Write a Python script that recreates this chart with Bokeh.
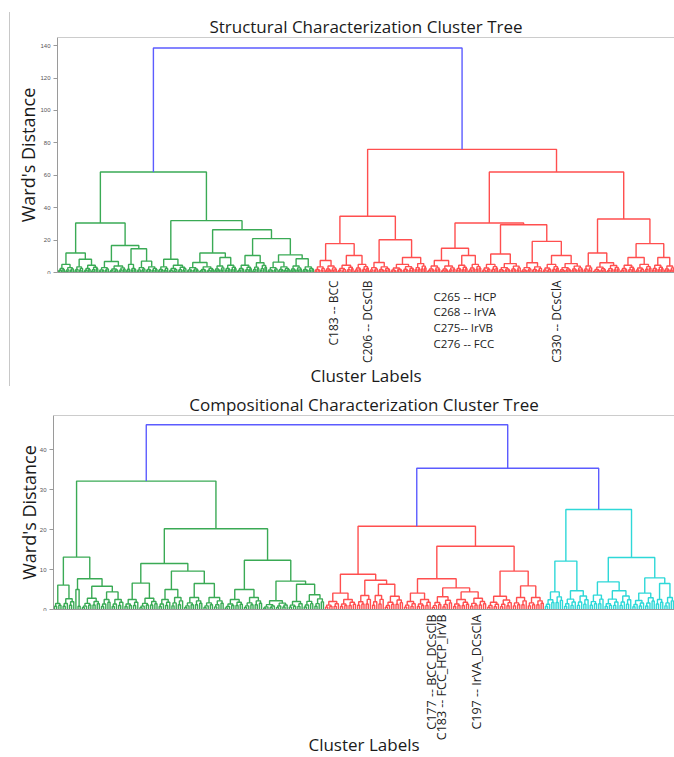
import math
from bokeh.plotting import figure
from bokeh.models import Span, Range1d, FixedTicker, Spacer
from bokeh.core.properties import value
from bokeh.layouts import column, row
from bokeh.embed import file_html
from bokeh.resources import INLINE

# ---------------- data ----------------
# node = [merge height, left, right]; (n, h) = small fringe group of n leaves whose top merge is at h
STRUCT_GREEN = [62,
    [30.5,
        [12, [5, (5, 2.5), (6, 3)], [8.2, (6, 3.5), (10, 4.5)]],
        [16.7, [6.8, (7, 3), (11, 4)], [14.7, [5, (3, 2), (4, 2.5)], [7, (6, 3), (8, 3.5)]]]],
    [32,
        [8.2, (7, 3.5), (12, 4.5)],
        [26.4,
            [12, [6.2, (8, 3), (10, 3.5)], [9.3, (7, 4), (8, 4.5)]],
            [20.9, [10.5, (10, 4.5), (10, 6)],
                   [10.9, [6.4, (7, 3), (8, 3.5)], [8.5, (8, 4), (8, 3.5)]]]]]]
STRUCT_RED = [76,
    [34.7,
        [17.8, [7.4, (7, 3.5), (8, 4)], [10.5, (11, 4.5), (10, 5)]],
        [20.2, [6.2, (6, 3), (8, 3.5)], [9.3, (16, 5), (8, 5.5)]]],
    [62,
        [30.5,
            [15, [7.4, (9, 4), (10, 4)], [10.5, (8, 4.5), (9, 5)]],
            [29.5,
                [11.4, (11, 5), (15, 5.5)],
                [19.2, [6, (7, 3), (7, 3.5)], [10.5, (11, 5), (16, 5.5)]]]],
        [33,
            [12, (6, 4), (18, 6)],
            [17.8, [9.3, (10, 4.5), (11, 5)], [9.3, (8, 4.5), (7, 4)]]]]]
STRUCT_ROOT_HEIGHT = 138.5

COMP_GREEN = [32.1,
    [13.1,
        [6.1, (4, 1.5), (6, 2.7)],
        [7.7, [5, (1, 0), (2, 0.8)], [5.8, (9, 2.8), [4.4, (5, 2.5), (6, 2.5)]]]],
    [20.2,
        [11.5,
            [6.6, (7, 2.5), (9, 2.8)],
            [9.6, [5, (6, 2.5), (6, 3)], [6.5, (9, 3), (10, 3)]]],
        [12.3,
            [5, (9, 2.5), (9, 3)],
            [7.1, (12, 2.2), [6.3, (7, 2), (10, 3.7)]]]]]
COMP_RED = [20.8,
    [8.8,
        [4.1, (7, 2), (8, 2.5)],
        [7.3, (7, 3.5), [6.3, (6, 3.5), (9, 3.3)]]],
    [15.8,
        [7.7, [4.1, (6, 2), (7, 2.5)], [5.4, (10, 3.2), [4.4, (8, 2.5), (8, 2.8)]]],
        [9.6, (12, 3.3), [5.9, (7, 3), (8, 3)]]]]
COMP_CYAN = [25,
    [12.1, (9, 4.4), (12, 4.7)],
    [13, [6.9, (7, 3.6), (13, 4.7)], [7.9, (11, 4.1), [6.5, (4, 2.5), (5, 3)]]]]
COMP_MID_HEIGHT = 35.3
COMP_ROOT_HEIGHT = 46.2

STRUCT_TICKS = [0, 20, 40, 60, 80, 100, 120, 140]
COMP_TICKS = [0, 10, 20, 30, 40]

STRUCT_VLABELS = ["C183 -- BCC", "C206 -- DCsClB", "C330 -- DCsClA"]
STRUCT_VLABEL_POS = [181.8, 203.7, 328.3]
STRUCT_HLABELS = ["C265 -- HCP", "C268 -- IrVA", "C275-- IrVB", "C276 -- FCC"]
STRUCT_HLABEL_POS = 247.4

COMP_VLABELS = ["C177 -- BCC_DCsClB", "C183 -- FCC_HCP_IrVB", "C197 -- IrVA_DCsClA"]
COMP_VLABEL_POS = [177.3, 182.0, 198.0]

PALETTE = ["#3aaa55", "#ff4f4f", "#2ed8d8"]
ABOVE_COLOR = "#5c5cff"
FONT = "Open Sans"
AXIS_GRAY = "#9a9a9a"
TEXT = "#1a1a1a"


# ---------------- tree helpers ----------------
def build_tuft(n, h):
    if n <= 1:
        return None
    a = (n + 1) // 2
    return [h, build_tuft(a, h * 0.55), build_tuft(n - a, h * 0.72)]


def expand(node):
    if node is None:
        return None
    if isinstance(node, tuple):
        return build_tuft(node[0], node[1])
    h, l, r = node
    return [h, expand(l), expand(r)]


def layout(tree, threshold):
    xs, ys, cols = [], [], []
    counter = [0]
    cidx = [0]

    def walk(node, color):
        if node is None:
            x = counter[0] + 0.5
            counter[0] += 1
            return x, 0.0
        h, l, r = node
        if color is None and h < threshold:
            color = PALETTE[cidx[0] % len(PALETTE)]
            cidx[0] += 1
        xl, hl = walk(l, color)
        xr, hr = walk(r, color)
        xs.append([xl, xl, xr, xr])
        ys.append([hl, h, h, hr])
        cols.append(color if color else ABOVE_COLOR)
        return (xl + xr) / 2, h

    walk(tree, None)
    return xs, ys, cols, counter[0]


def make_tree_fig(title, tree, ymax, ticks, width, height, left, top, ylabel_standoff):
    threshold = 0.7 * tree[0]
    xs, ys, cols, n = layout(expand(tree), threshold)
    p = figure(width=width, height=height, x_range=Range1d(0, n), y_range=Range1d(0, ymax),
               output_backend="svg", toolbar_location=None,
               min_border_left=left, min_border_right=0, min_border_top=top,
               min_border_bottom=2)
    p.multi_line(xs, ys, line_color=cols, line_width=1.4)
    p.title.text = title
    p.title.align = "center"
    p.title.text_font = FONT
    p.title.text_font_size = "17px"
    p.title.text_font_style = "normal"
    p.title.text_color = TEXT
    p.title.standoff = 0
    p.outline_line_color = None
    p.xgrid.visible = False
    p.ygrid.visible = False

    p.yaxis.ticker = FixedTicker(ticks=ticks)
    p.yaxis.minor_tick_line_color = None
    p.yaxis.major_tick_out = 4
    p.yaxis.major_tick_in = 0
    p.yaxis.major_label_text_font_size = "6px"
    p.yaxis.major_label_text_color = "#555555"
    p.yaxis.major_label_standoff = 3
    p.yaxis.axis_line_color = AXIS_GRAY
    p.yaxis.major_tick_line_color = AXIS_GRAY
    p.yaxis.axis_label = "Ward's Distance"
    p.yaxis.axis_label_text_font = FONT
    p.yaxis.axis_label_text_font_size = "18px"
    p.yaxis.axis_label_text_font_style = "normal"
    p.yaxis.axis_label_text_color = TEXT
    p.yaxis.axis_label_standoff = ylabel_standoff

    p.xaxis.ticker = FixedTicker(ticks=[])
    p.xaxis.minor_tick_line_color = None
    p.xaxis.major_tick_line_color = None
    p.xaxis.major_label_text_font_size = "0px"
    p.xaxis.axis_line_color = AXIS_GRAY

    p.add_layout(Span(location=ymax, dimension="width", line_color=AXIS_GRAY, line_width=1))
    return p


def make_label_fig(x_range, width, height, left):
    # strip under the tree: y in pixels measured down from the axis line
    q = figure(width=width, height=height, x_range=x_range, y_range=Range1d(height, 0),
               output_backend="svg", toolbar_location=None,
               min_border_left=left, min_border_right=0, min_border_top=0,
               min_border_bottom=0, x_axis_location=None, y_axis_location=None)
    q.outline_line_color = None
    q.xgrid.visible = False
    q.ygrid.visible = False
    return q


struct_tree = [STRUCT_ROOT_HEIGHT, STRUCT_GREEN, STRUCT_RED]
comp_tree = [COMP_ROOT_HEIGHT, COMP_GREEN, [COMP_MID_HEIGHT, COMP_RED, COMP_CYAN]]

# top chart: frame x 57..674, y 37..272
p1 = make_tree_fig("Structural Characterization Cluster Tree", struct_tree, 145, STRUCT_TICKS,
                   664, 274, 47, 37, -3)
q1 = make_label_fig(p1.x_range, 664, 114, 47)
q1.text(x=STRUCT_VLABEL_POS, y=[6] * len(STRUCT_VLABEL_POS), text=STRUCT_VLABELS,
        angle=math.pi / 2, text_align="right", text_baseline="middle",
        text_font=value(FONT), text_font_size="12px", text_color="#222222")
q1.text(x=[STRUCT_HLABEL_POS] * len(STRUCT_HLABELS),
        y=[21.5 + 15.7 * i for i in range(len(STRUCT_HLABELS))], text=STRUCT_HLABELS,
        text_align="left", text_baseline="middle",
        text_font=value(FONT), text_font_size="11.5px", text_color="#222222")
n1 = p1.x_range.end
q1.text(x=[n1 / 2], y=[101], text=["Cluster Labels"], text_align="center",
        text_baseline="middle", text_font=value(FONT), text_font_size="17px", text_color=TEXT)

# bottom chart: frame x 53..674, y 415..609
p2 = make_tree_fig("Compositional Characterization Cluster Tree", comp_tree, 48.5, COMP_TICKS,
                   674, 223, 53, 27, -4)
q2 = make_label_fig(p2.x_range, 674, 146, 53)
q2.text(x=COMP_VLABEL_POS, y=[3] * len(COMP_VLABEL_POS), text=COMP_VLABELS,
        angle=math.pi / 2, text_align="right", text_baseline="middle",
        text_font=value(FONT), text_font_size="12.5px", text_color="#222222")
n2 = p2.x_range.end
q2.text(x=[n2 / 2], y=[133], text=["Cluster Labels"], text_align="center",
        text_baseline="middle", text_font=value(FONT), text_font_size="17px", text_color=TEXT)

edge = Spacer(width=1, height=374, margin=(12, 0, 0, 9),
              styles={"background-color": "#c8c8c8"})
lay = column(row(edge, column(p1, q1, spacing=0), spacing=0),
             column(p2, q2, spacing=0), spacing=0)
open("out.html", "w").write(file_html(lay, INLINE))
